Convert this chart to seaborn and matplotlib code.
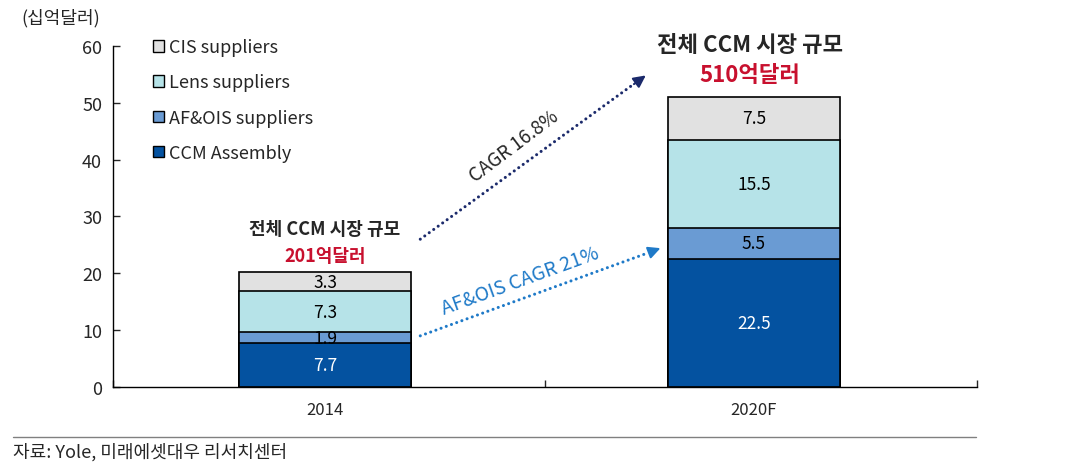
import numpy as np
import pandas as pd
import seaborn as sns
import matplotlib.pyplot as plt
from matplotlib.patches import Patch

# 데이터 (십억달러)
years = ["2014", "2020F"]
segments = ["CCM Assembly", "AF&OIS suppliers", "Lens suppliers", "CIS suppliers"]
ccm_assembly = [7.7, 22.5]
af_ois = [1.9, 5.5]
lens = [7.3, 15.5]
cis = [3.3, 7.5]
colors = ["#0452A0", "#6A9BD3", "#B6E3E8", "#E1E1E1"]
label_colors = ["white", "black", "black", "black"]

sns.set_theme(style="white")
plt.rcParams['font.family'] = ['Noto Sans CJK KR', 'DejaVu Sans']

values = np.array([ccm_assembly, af_ois, lens, cis])
tops = values.cumsum(axis=0)

fig = plt.figure(figsize=(10.78, 4.77), dpi=100)
ax = fig.add_axes([0.105, 0.1866, 0.8013, 0.715])

# 누적 막대: 위에서부터 겹쳐 그리기
for i in range(len(segments) - 1, -1, -1):
    df = pd.DataFrame({"year": years, "value": tops[i]})
    sns.barplot(data=df, x="year", y="value", color=colors[i], width=0.4,
                edgecolor="black", linewidth=1.2, saturation=1, ax=ax)

# 구간 라벨
for i in range(len(segments)):
    for j in range(len(years)):
        y = tops[i, j] - values[i, j] / 2
        ax.text(j, y, f"{values[i, j]:.1f}", ha="center", va="center",
                fontsize=12.5, color=label_colors[i])

ax.set_xlim(-0.494, 1.52)
ax.set_ylim(0, 60)
ax.set_yticks(range(0, 61, 10))
ax.set_xlabel("")
ax.set_ylabel("")
ax.tick_params(axis="y", direction="in", length=5, width=1, labelsize=13, pad=8, left=True)
ax.tick_params(axis="x", which="major", length=0, labelsize=12, pad=10)
ax.set_xticks([-0.494, 0.513, 1.52], minor=True)
ax.tick_params(axis="x", which="minor", direction="in", length=5, width=1, bottom=True)
for s in ["top", "right"]:
    ax.spines[s].set_visible(False)
for s in ["left", "bottom"]:
    ax.spines[s].set_color("black")
    ax.spines[s].set_linewidth(1)

# 범례
handles = [Patch(facecolor=colors[i], edgecolor="black", label=segments[i]) for i in range(3, -1, -1)]
leg = ax.legend(handles=handles, loc="upper left", bbox_to_anchor=(0.027, 1.07), frameon=False,
                fontsize=13, handlelength=0.6, handleheight=0.6, handletextpad=0.3,
                labelspacing=0.95)

# 총액 주석
ax.text(0, 27.8, "전체 CCM 시장 규모", ha="center", va="center", fontsize=13, fontweight="bold")
ax.text(0, 23.1, "201억달러", ha="center", va="center", fontsize=13, fontweight="bold", color="#C8102E")
ax.text(0.99, 60.2, "전체 CCM 시장 규모", ha="center", va="center", fontsize=16, fontweight="bold", clip_on=False)
ax.text(0.99, 54.9, "510억달러", ha="center", va="center", fontsize=16, fontweight="bold", color="#C8102E")

# CAGR 화살표 (점선 + 화살촉)
navy = "#1B2A6B"
blue = "#1F7AC8"
dots = (0, (0.01, 1.8))
ax.plot([0.222, 0.72], [26.0, 53.3], color=navy, lw=2.2, linestyle=dots, dash_capstyle="round")
ax.annotate("", xy=(0.753, 55.1), xytext=(0.715, 53.0),
            arrowprops=dict(arrowstyle="-|>,head_length=0.6,head_width=0.3", lw=1.5, color=navy))
ax.text(0.44, 42.5, "CAGR 16.8%", rotation=37, ha="center", va="center", fontsize=13.5)

ax.plot([0.222, 0.755], [9.0, 23.65], color=blue, lw=2.2, linestyle=dots, dash_capstyle="round")
ax.annotate("", xy=(0.788, 24.6), xytext=(0.75, 23.5),
            arrowprops=dict(arrowstyle="-|>,head_length=0.6,head_width=0.3", lw=1.5, color=blue))
ax.text(0.455, 18.8, "AF&OIS CAGR 21%", rotation=20, ha="center", va="center", fontsize=14, color=blue)

# 단위, 출처
fig.text(0.056, 0.962, "(십억달러)", ha="center", va="center", fontsize=13)
fig.add_artist(plt.Line2D([0.012, 0.905], [0.082, 0.082], color="#808080", lw=1))
fig.text(0.012, 0.052, "자료: Yole, 미래에셋대우 리서치센터", ha="left", va="center", fontsize=13)

fig.savefig("out.png", dpi=100)
